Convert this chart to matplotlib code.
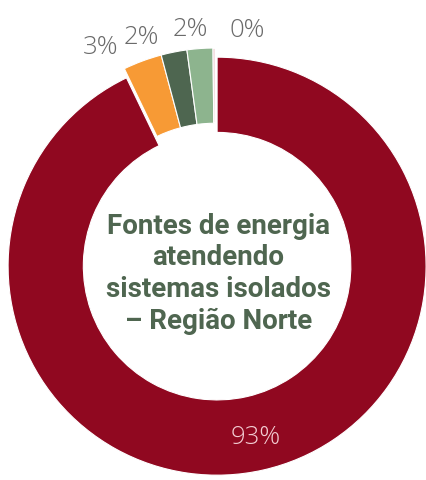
import matplotlib.pyplot as plt
import numpy as np

# energy sources serving isolated systems, northern region (share, %)
fontes = ['Fonte A', 'Fonte B', 'Fonte C', 'Fonte D', 'Fonte E']
valores = [93, 3, 2, 2, 0.15]
cores = ['#900820', '#f79a35', '#4e6650', '#8db48e', '#e9b9bf']
rotulos = ['93%', '3%', '2%', '2%', '0%']

titulo = 'Fontes de energia\natendendo\nsistemas isolados\n– Região Norte'

W, H = 426, 480
fig = plt.figure(figsize=(W / 100, H / 100), dpi=100)
ax = fig.add_axes([0, 0, 1, 1])

explode = [0.045, 0, 0, 0, 0]
wedges, _ = ax.pie(valores, colors=cores, startangle=90, counterclock=False,
                   explode=explode, radius=1.0,
                   wedgeprops=dict(width=0.36, edgecolor='white', linewidth=0.8))

# big slice label sits inside the ring, along its bisector
w0 = wedges[0]
mid = np.deg2rad((w0.theta1 + w0.theta2) / 2)
cx, cy = w0.center
ax.text(cx + 0.84 * np.cos(mid), cy + 0.84 * np.sin(mid), rotulos[0],
        ha='center', va='center', color='#f3cdd3', fontsize=18.5,
        family='Open Sans', fontweight='light')

# small slices get grey labels outside, spread apart a little
desvio = [8.3, 7.3, 2.1, -8.3]
dist = [1.14, 1.11, 1.095, 1.095]
for w, lab, d, r in zip(wedges[1:], rotulos[1:], desvio, dist):
    a = np.deg2rad((w.theta1 + w.theta2) / 2 + d)
    ax.text(r * np.cos(a), r * np.sin(a), lab, ha='center', va='center',
            color='#6a6a6a', fontsize=18.5, family='Open Sans',
            fontweight='light')

ax.text(0.015, -0.08, titulo, ha='center', va='center', color='#4f6650',
        fontsize=20, fontweight='bold', family='Roboto',
        linespacing=1.22)

# one data unit = 209 px, centre of the ring at (215, 257) px
s = 209.0
ax.set_aspect('auto')
ax.set_xlim(-215 / s, (W - 215) / s)
ax.set_ylim(-(H - 257) / s, 257 / s)
ax.axis('off')

fig.savefig('out.png', dpi=100, facecolor='white')
